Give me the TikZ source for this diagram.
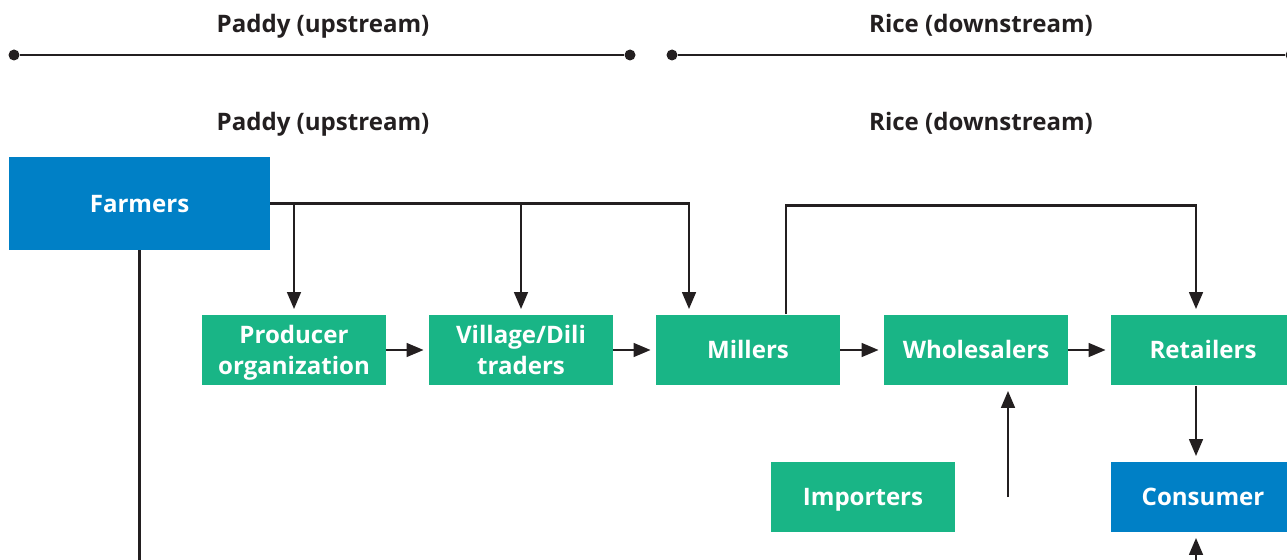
\documentclass[tikz,border=0pt]{standalone}
\usepackage{fontspec}
\setmainfont{Open Sans}
\usetikzlibrary{arrows.meta}
\definecolor{riceGreen}{HTML}{19B586}
\definecolor{riceBlue}{HTML}{0080C6}
\definecolor{inkDark}{HTML}{231F20}
\begin{document}
\begin{tikzpicture}[x=0.02cm,y=-0.02cm,font=\bfseries\fontsize{13.7}{18}\selectfont,
    twoline/.style={fill=riceGreen,text=white,minimum width=3.68cm,minimum height=1.42cm,align=center,inner sep=0pt,text depth=0pt},
    greenbox/.style={twoline,text height=0.98em},
    bluebox/.style={greenbox,fill=riceBlue},
    heading/.style={text=inkDark,text height=0.98em,text depth=0pt},
    flow/.style={draw=inkDark,line width=1.6pt,-{Triangle[length=0.34cm,width=0.27cm]},shorten >=0.1cm},
    edgedot/.style={circle,fill=inkDark,inner sep=0pt,minimum size=0.22cm}]
      \useasboundingbox (0,0) rectangle (1287,560);
      \node[heading] (paddyTop) at (323,24) {Paddy (upstream)};
      \node[heading] (riceTop) at (981,24) {Rice (downstream)};
      \node[heading] (paddyHead) at (323,122) {Paddy (upstream)};
      \node[heading] (riceHead) at (981,122) {Rice (downstream)};
      \node[edgedot] (paddyL) at (14,55) {};
      \node[edgedot] (paddyR) at (630,55) {};
      \node[edgedot] (riceL) at (672,55) {};
      \node[edgedot] (riceR) at (1291,55) {};
      \draw[inkDark,line width=1.6pt] (paddyL) -- (paddyR);
      \draw[inkDark,line width=1.6pt] (riceL) -- (riceR);
      \node[bluebox,minimum width=5.22cm,minimum height=1.86cm] (farmers) at (139.5,203.5) {Farmers};
      \node[twoline] (producer) at (294,350) {Producer\\organization};
      \node[twoline] (village) at (521,350) {Village/Dili\\traders};
      \node[greenbox] (millers) at (748,350) {Millers};
      \node[greenbox] (wholesalers) at (976,350) {Wholesalers};
      \node[greenbox] (retailers) at (1203,350) {Retailers};
      \node[greenbox] (importers) at (863,497) {Importers};
      \node[bluebox] (consumer) at (1203,497) {Consumer};
      \coordinate (importArrow) at (1008,497);
      \coordinate (consumerIn) at (1196,570);
      \draw[flow] (farmers.east) -| ([xshift=-1.18cm]millers.north);
      \draw[flow] (farmers.east -| producer.north) -- (producer.north);
      \draw[flow] (farmers.east -| village.north) -- (village.north);
      \draw[flow] ([xshift=0.76cm]millers.north) -- ++(0,-109) -| ([xshift=-0.14cm]retailers.north);
      \draw[flow] (producer) -- (village);
      \draw[flow] (village) -- (millers);
      \draw[flow] (millers) -- (wholesalers);
      \draw[flow] (wholesalers) -- (retailers);
      \draw[flow] (importArrow) -- (importArrow |- wholesalers.south);
      \draw[flow] ([xshift=-0.14cm]retailers.south) -- ([xshift=-0.14cm]consumer.north);
      \draw[flow] (consumerIn) -- (consumerIn |- consumer.south);
      \draw[inkDark,line width=1.6pt] (farmers.south) -- ++(0,320);
    \end{tikzpicture}
\end{document}
